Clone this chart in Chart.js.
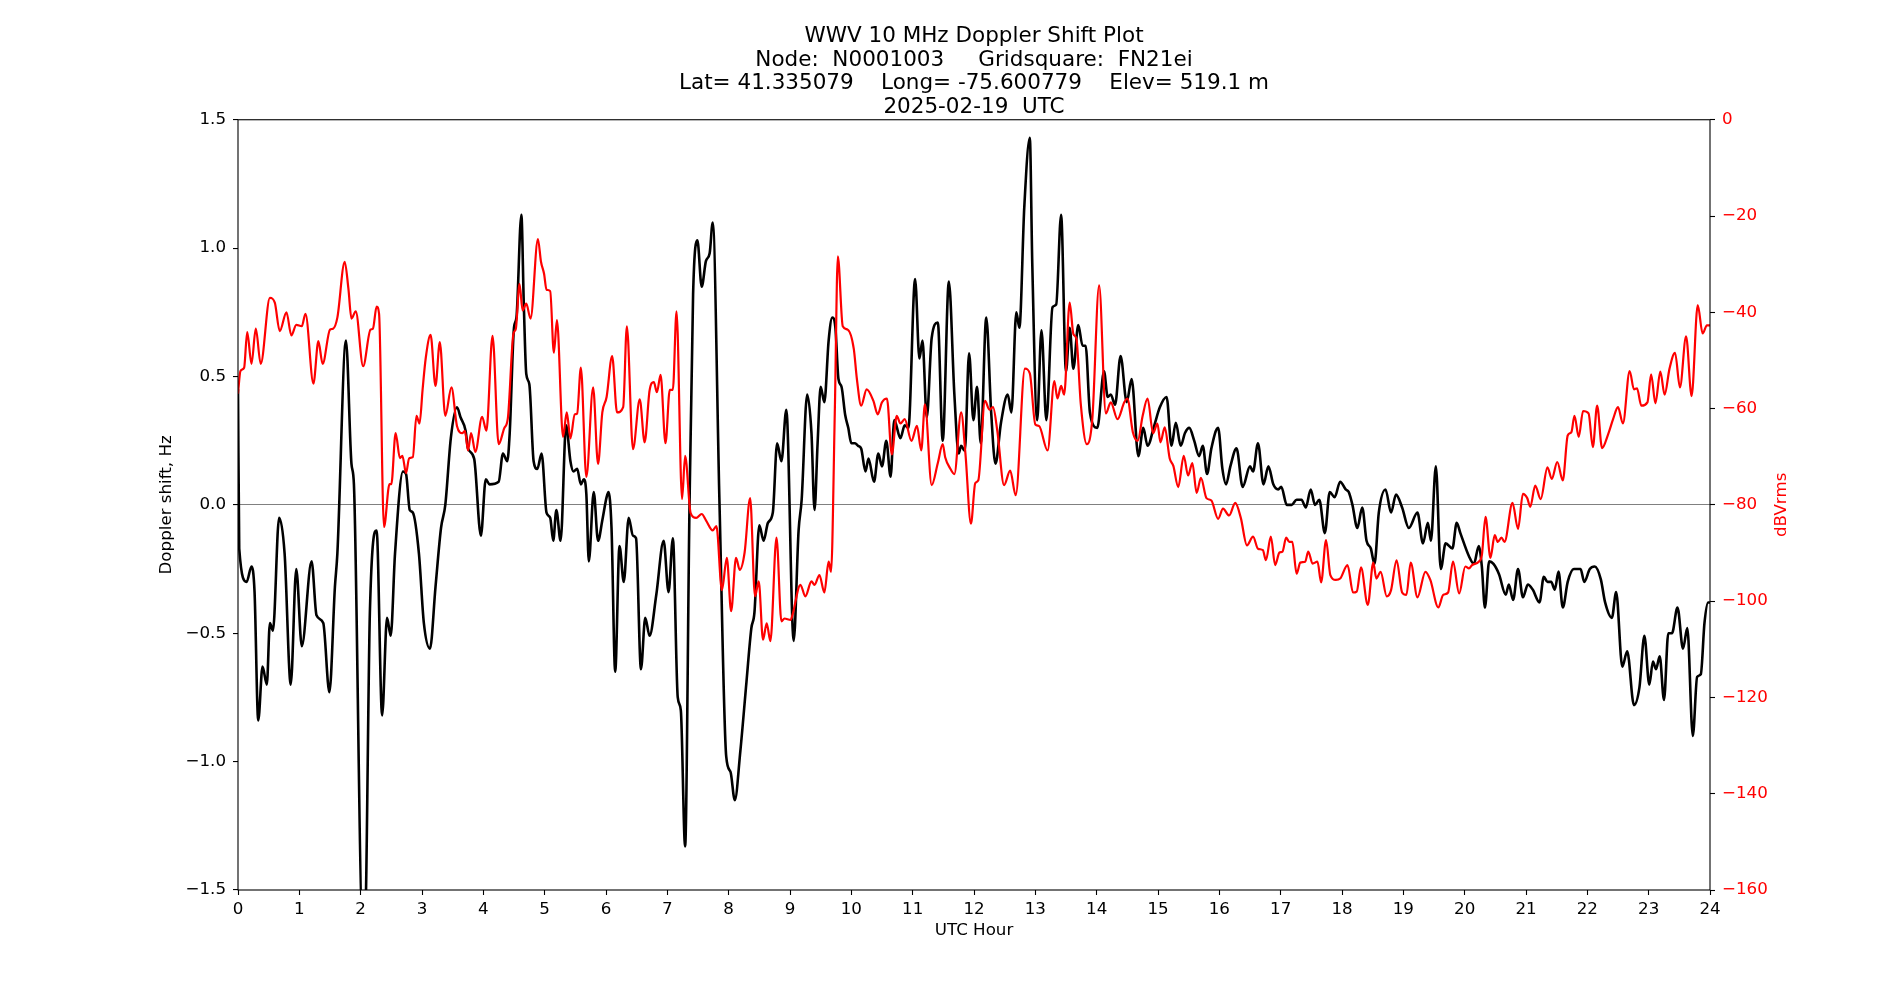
<!DOCTYPE html>
<html>
<head>
<meta charset="utf-8">
<script src="https://cdn.jsdelivr.net/npm/chart.js@4.4.1/dist/chart.umd.min.js"></script>
<style>
  html, body { margin: 0; padding: 0; background: #fff; }
  canvas { display: block; }
</style>
</head>
<body>
<canvas id="chartCanvas" width="1900" height="1000"></canvas>
<script>
// Doppler shift (black, left axis)
const dopplerHours = [0.00,0.02,0.14,0.22,0.27,0.33,0.40,0.47,0.52,0.57,0.67,0.76,0.86,0.95,1.04,1.20,1.28,1.39,1.49,1.58,1.62,1.76,1.85,1.89,2.03,2.07,2.15,2.26,2.35,2.43,2.49,2.56,2.69,2.74,2.80,2.85,2.95,3.03,3.13,3.22,3.31,3.38,3.47,3.57,3.63,3.71,3.75,3.85,3.96,4.04,4.10,4.25,4.32,4.39,4.43,4.50,4.54,4.62,4.66,4.70,4.75,4.82,4.88,4.95,5.03,5.09,5.14,5.19,5.26,5.35,5.42,5.47,5.53,5.59,5.64,5.68,5.72,5.80,5.87,5.94,6.01,6.04,6.09,6.15,6.22,6.29,6.37,6.44,6.49,6.57,6.64,6.71,6.82,6.94,7.02,7.09,7.17,7.22,7.29,7.36,7.42,7.49,7.56,7.63,7.69,7.74,7.85,7.96,8.03,8.10,8.19,8.29,8.37,8.42,8.50,8.57,8.64,8.72,8.79,8.86,8.94,9.06,9.14,9.19,9.28,9.35,9.40,9.45,9.50,9.56,9.63,9.69,9.74,9.79,9.84,9.90,9.95,10.00,10.06,10.11,10.16,10.23,10.28,10.37,10.44,10.50,10.57,10.64,10.70,10.80,10.87,10.93,11.04,11.11,11.16,11.23,11.31,11.41,11.49,11.59,11.68,11.75,11.79,11.85,11.92,11.99,12.05,12.11,12.20,12.28,12.35,12.44,12.55,12.61,12.69,12.74,12.82,12.91,12.95,13.03,13.10,13.18,13.28,13.34,13.42,13.50,13.56,13.62,13.70,13.77,13.82,13.89,14.01,14.12,14.18,14.23,14.30,14.39,14.49,14.57,14.68,14.76,14.83,14.94,15.03,15.14,15.22,15.29,15.37,15.44,15.51,15.59,15.67,15.73,15.80,15.87,15.98,16.05,16.11,16.18,16.28,16.38,16.50,16.55,16.63,16.72,16.80,16.88,16.96,17.01,17.10,17.18,17.26,17.34,17.41,17.49,17.56,17.63,17.72,17.80,17.88,17.97,18.06,18.11,18.17,18.25,18.33,18.40,18.47,18.53,18.60,18.71,18.80,18.88,18.98,19.09,19.23,19.32,19.40,19.45,19.53,19.61,19.69,19.80,19.87,19.93,20.07,20.15,20.23,20.28,20.33,20.40,20.47,20.56,20.67,20.72,20.79,20.87,20.95,21.03,21.11,21.22,21.29,21.35,21.41,21.47,21.53,21.60,21.68,21.78,21.89,21.95,22.04,22.12,22.22,22.29,22.40,22.47,22.57,22.65,22.76,22.85,22.93,23.01,23.07,23.12,23.18,23.25,23.32,23.38,23.47,23.56,23.63,23.72,23.79,23.85,23.91,23.97,24.00];
const dopplerShift = [0.45,-0.17,-0.30,-0.24,-0.34,-0.84,-0.63,-0.70,-0.46,-0.49,-0.05,-0.19,-0.70,-0.25,-0.55,-0.22,-0.43,-0.46,-0.73,-0.32,-0.19,0.64,0.16,0.08,-1.62,-1.62,-0.42,-0.10,-0.82,-0.44,-0.51,-0.19,0.13,0.12,-0.02,-0.03,-0.19,-0.46,-0.56,-0.32,-0.09,0.00,0.26,0.38,0.34,0.29,0.22,0.18,-0.12,0.10,0.08,0.09,0.20,0.17,0.28,0.69,0.73,1.13,0.78,0.51,0.47,0.17,0.14,0.20,-0.03,-0.05,-0.14,-0.02,-0.14,0.31,0.17,0.13,0.14,0.08,0.10,0.04,-0.22,0.05,-0.14,-0.06,0.03,0.05,-0.09,-0.65,-0.16,-0.30,-0.05,-0.12,-0.13,-0.64,-0.44,-0.51,-0.35,-0.14,-0.34,-0.13,-0.75,-0.80,-1.33,-0.03,0.82,1.03,0.85,0.95,0.98,1.10,0.01,-0.98,-1.04,-1.15,-0.96,-0.69,-0.48,-0.42,-0.08,-0.14,-0.07,-0.03,0.24,0.17,0.37,-0.53,-0.10,0.02,0.43,0.28,-0.02,0.24,0.46,0.40,0.64,0.73,0.69,0.49,0.46,0.35,0.30,0.24,0.24,0.23,0.22,0.13,0.18,0.09,0.20,0.15,0.25,0.11,0.33,0.26,0.31,0.30,0.88,0.57,0.64,0.34,0.65,0.71,0.25,0.87,0.43,0.20,0.23,0.21,0.59,0.33,0.46,0.24,0.73,0.36,0.16,0.32,0.43,0.36,0.75,0.69,1.16,1.43,0.94,0.33,0.68,0.33,0.77,0.78,1.13,0.52,0.69,0.53,0.70,0.62,0.62,0.36,0.30,0.52,0.42,0.43,0.39,0.58,0.40,0.49,0.19,0.30,0.23,0.31,0.38,0.42,0.23,0.32,0.23,0.28,0.30,0.25,0.19,0.23,0.12,0.22,0.30,0.14,0.08,0.15,0.22,0.07,0.15,0.13,0.24,0.08,0.15,0.08,0.06,0.07,0.00,0.00,0.02,0.02,-0.01,0.06,0.00,0.02,-0.11,0.05,0.03,0.09,0.06,0.05,0.00,-0.09,-0.01,-0.14,-0.17,-0.23,-0.03,0.06,-0.03,0.04,-0.01,-0.09,-0.03,-0.15,-0.07,-0.14,0.15,-0.25,-0.15,-0.17,-0.07,-0.11,-0.20,-0.23,-0.16,-0.24,-0.40,-0.22,-0.23,-0.27,-0.35,-0.31,-0.37,-0.25,-0.36,-0.31,-0.33,-0.38,-0.28,-0.30,-0.30,-0.33,-0.26,-0.40,-0.30,-0.25,-0.25,-0.30,-0.25,-0.24,-0.29,-0.38,-0.44,-0.34,-0.63,-0.57,-0.78,-0.71,-0.51,-0.70,-0.61,-0.64,-0.59,-0.76,-0.50,-0.50,-0.40,-0.56,-0.48,-0.90,-0.67,-0.66,-0.46,-0.38,-0.38];

// Signal level (red, right axis)
const powerHours = [0.00,0.04,0.10,0.15,0.22,0.29,0.37,0.52,0.60,0.68,0.79,0.87,0.95,1.04,1.10,1.23,1.31,1.38,1.50,1.55,1.62,1.74,1.80,1.85,1.92,2.04,2.16,2.20,2.26,2.30,2.38,2.47,2.50,2.57,2.64,2.68,2.74,2.79,2.85,2.91,2.96,3.01,3.06,3.14,3.22,3.29,3.38,3.48,3.57,3.66,3.70,3.75,3.80,3.87,3.98,4.05,4.15,4.25,4.34,4.40,4.49,4.53,4.59,4.64,4.70,4.77,4.89,4.94,4.99,5.03,5.09,5.15,5.20,5.30,5.36,5.42,5.49,5.53,5.59,5.68,5.79,5.87,5.94,6.01,6.10,6.18,6.28,6.34,6.44,6.55,6.63,6.71,6.78,6.83,6.89,6.97,7.04,7.09,7.15,7.24,7.29,7.38,7.47,7.56,7.63,7.74,7.80,7.89,7.97,8.04,8.12,8.18,8.26,8.35,8.43,8.49,8.56,8.62,8.68,8.78,8.86,8.91,9.01,9.04,9.17,9.25,9.35,9.40,9.48,9.56,9.63,9.67,9.73,9.78,9.86,9.94,10.04,10.09,10.16,10.25,10.36,10.43,10.50,10.58,10.66,10.74,10.80,10.87,10.98,11.07,11.14,11.20,11.31,11.41,11.49,11.53,11.61,11.68,11.79,11.86,11.95,12.02,12.07,12.18,12.25,12.31,12.38,12.49,12.59,12.68,12.83,12.91,13.00,13.06,13.20,13.31,13.36,13.42,13.47,13.56,13.62,13.67,13.74,13.84,13.93,14.04,14.15,14.23,14.34,14.45,14.50,14.59,14.67,14.75,14.83,14.92,14.99,15.04,15.11,15.19,15.25,15.33,15.42,15.49,15.56,15.63,15.70,15.79,15.87,15.98,16.06,16.16,16.26,16.35,16.45,16.55,16.63,16.71,16.76,16.84,16.91,16.98,17.03,17.09,17.14,17.19,17.26,17.32,17.40,17.45,17.52,17.60,17.66,17.74,17.81,17.90,17.97,18.09,18.18,18.24,18.31,18.42,18.51,18.56,18.63,18.73,18.80,18.89,18.98,19.05,19.12,19.23,19.36,19.44,19.57,19.65,19.73,19.81,19.91,20.01,20.07,20.12,20.23,20.28,20.34,20.42,20.49,20.54,20.60,20.65,20.78,20.87,20.95,21.02,21.07,21.15,21.24,21.35,21.42,21.51,21.60,21.68,21.74,21.79,21.86,21.93,22.02,22.09,22.16,22.24,22.34,22.42,22.50,22.58,22.69,22.76,22.81,22.88,22.98,23.04,23.11,23.19,23.26,23.34,23.43,23.51,23.61,23.70,23.80,23.88,23.95,24.00];
const powerDb = [-56.9,-52.2,-51.5,-44.1,-50.7,-43.4,-50.7,-37.0,-38.0,-43.9,-40.0,-44.8,-42.6,-42.9,-40.3,-54.8,-46.0,-50.7,-43.6,-43.4,-41.1,-29.5,-35.1,-41.3,-39.8,-51.2,-43.6,-43.4,-38.8,-40.3,-84.6,-75.7,-75.7,-65.1,-70.3,-69.8,-73.4,-70.3,-70.1,-61.5,-63.1,-56.0,-49.6,-44.7,-55.3,-46.2,-61.5,-55.6,-63.6,-65.1,-64.6,-68.7,-65.1,-69.0,-61.7,-64.6,-44.9,-67.4,-64.1,-62.0,-44.5,-43.4,-34.1,-39.6,-38.2,-41.3,-24.8,-29.5,-32.0,-35.3,-35.6,-48.4,-41.6,-65.9,-60.8,-66.2,-61.2,-61.0,-51.5,-74.2,-55.6,-71.5,-60.8,-57.6,-49.1,-60.8,-59.7,-42.9,-68.4,-58.1,-67.0,-56.3,-54.5,-56.6,-53.0,-67.2,-56.1,-56.1,-39.8,-78.8,-69.8,-81.7,-82.7,-81.9,-83.2,-85.3,-84.4,-97.7,-91.0,-102.1,-91.0,-93.5,-89.9,-78.6,-99.0,-95.9,-108.0,-104.6,-108.3,-86.8,-104.2,-103.6,-103.9,-102.9,-96.6,-99.0,-95.9,-96.6,-94.6,-98.2,-91.8,-93.9,-61.0,-28.4,-42.9,-43.6,-47.6,-53.8,-59.4,-56.0,-58.4,-61.2,-58.7,-57.9,-69.5,-61.5,-63.1,-62.2,-66.7,-63.6,-68.7,-59.1,-75.9,-71.3,-67.4,-70.1,-72.4,-73.6,-60.8,-69.3,-83.9,-75.5,-74.9,-58.4,-60.2,-59.7,-64.6,-75.9,-72.9,-78.0,-51.7,-52.7,-63.3,-63.6,-68.7,-54.3,-57.9,-55.3,-57.1,-38.0,-44.5,-45.5,-58.9,-67.4,-62.0,-34.4,-61.0,-58.7,-62.2,-58.7,-57.9,-64.9,-66.7,-61.5,-57.9,-65.1,-63.1,-67.0,-63.9,-70.3,-71.9,-76.3,-69.8,-73.9,-71.3,-77.5,-74.4,-78.6,-79.1,-82.9,-80.8,-82.2,-79.6,-82.7,-88.4,-86.6,-89.1,-89.4,-91.5,-86.6,-92.5,-89.9,-89.7,-86.8,-87.7,-87.7,-94.3,-92.0,-91.8,-89.7,-92.2,-91.8,-96.1,-87.3,-94.6,-95.6,-95.3,-92.5,-98.2,-98.0,-93.0,-100.8,-92.0,-95.3,-93.9,-99.0,-97.7,-91.5,-98.2,-98.7,-92.0,-99.2,-93.9,-95.6,-101.3,-98.7,-98.2,-91.8,-98.4,-92.8,-93.2,-92.5,-91.8,-90.5,-82.5,-91.0,-86.3,-87.7,-86.8,-87.7,-79.6,-85.0,-77.7,-78.6,-80.4,-76.0,-78.8,-72.2,-74.6,-71.1,-74.9,-65.6,-64.9,-61.5,-65.9,-60.5,-61.0,-68.0,-59.4,-68.2,-65.3,-62.2,-59.7,-63.1,-52.2,-56.0,-55.8,-59.4,-58.7,-52.9,-58.9,-52.3,-57.1,-51.7,-48.4,-55.6,-45.0,-57.4,-38.5,-44.4,-42.7,-42.7];

const hourTicks = [0,1,2,3,4,5,6,7,8,9,10,11,12,13,14,15,16,17,18,19,20,21,22,23,24];
const titleLines = [
  "WWV 10 MHz Doppler Shift Plot",
  "Node:  N0001003     Gridsquare:  FN21ei",
  "Lat= 41.335079    Long= -75.600779    Elev= 519.1 m",
  "2025-02-19  UTC"
];

const FONT = "'DejaVu Sans', sans-serif";
const minus = (s) => String(s).replace("-", "\u2212");

function toPoints(xs, ys) {
  return xs.map((x, i) => ({ x: x, y: ys[i] }));
}

// frame + axis labels
const framePlugin = {
  id: "frame",
  afterDatasetsDraw(chart) {
    const a = chart.chartArea;
    const ctx = chart.ctx;
    ctx.save();
    ctx.strokeStyle = "#000";
    ctx.lineWidth = 1.1;
    ctx.strokeRect(a.left, a.top, a.right - a.left, a.bottom - a.top);

    ctx.font = "16.7px " + FONT;
    ctx.textAlign = "center";
    ctx.textBaseline = "middle";
    ctx.fillStyle = "#000";
    ctx.fillText("UTC Hour", (a.left + a.right) / 2, 931);

    const midY = (a.top + a.bottom) / 2;
    ctx.save();
    ctx.translate(167, midY);
    ctx.rotate(-Math.PI / 2);
    ctx.fillText("Doppler shift, Hz", 0, 0);
    ctx.restore();

    ctx.save();
    ctx.translate(1782, midY);
    ctx.rotate(-Math.PI / 2);
    ctx.fillStyle = "#ff0000";
    ctx.fillText("dBVrms", 0, 0);
    ctx.restore();
    ctx.restore();
  }
};

const ctx = document.getElementById("chartCanvas").getContext("2d");
const chart = new Chart(ctx, {
  type: "line",
  data: {
    datasets: [
      {
        label: "dBVrms",
        data: toPoints(powerHours, powerDb),
        yAxisID: "yPower",
        borderColor: "#ff0000",
        borderWidth: 2.2,
        pointRadius: 0,
        cubicInterpolationMode: "monotone",
        order: 0
      },
      {
        label: "Doppler shift",
        data: toPoints(dopplerHours, dopplerShift),
        yAxisID: "yDoppler",
        borderColor: "#000000",
        borderWidth: 2.6,
        pointRadius: 0,
        cubicInterpolationMode: "monotone",
        order: 1
      }
    ]
  },
  options: {
    responsive: false,
    devicePixelRatio: 1,
    animation: false,
    layout: { padding: 0 },
    plugins: {
      legend: { display: false },
      tooltip: { enabled: false },
      title: {
        display: true,
        fullSize: false,
        text: titleLines,
        color: "#000",
        font: { family: FONT, size: 21.5, weight: "normal", lineHeight: 1.09 },
        padding: { top: 25, bottom: 1 }
      }
    },
    scales: {
      x: {
        type: "linear",
        min: 0,
        max: 24,
        afterBuildTicks: (s) => { s.ticks = hourTicks.map(v => ({ value: v })); },
        afterFit: (s) => { s.height = 110; },
        border: { display: false },
        grid: { drawOnChartArea: false, drawTicks: true, tickLength: 5, tickColor: "#000", tickWidth: 1.1 },
        ticks: { color: "#000", padding: 5, autoSkip: false, maxRotation: 0, font: { family: FONT, size: 16.7 } }
      },
      yDoppler: {
        type: "linear",
        position: "left",
        min: -1.5,
        max: 1.5,
        afterFit: (s) => { s.width = 238; },
        border: { display: false },
        grid: {
          drawOnChartArea: true,
          color: (c) => (c.tick && c.tick.value === 0 ? "#808080" : "rgba(0,0,0,0)"),
          lineWidth: 1.1,
          drawTicks: true,
          tickLength: 5,
          tickColor: "#000",
          tickWidth: 1.1
        },
        ticks: {
          stepSize: 0.5,
          color: "#000",
          padding: 7,
          font: { family: FONT, size: 16.7 },
          callback: (v) => minus(v.toFixed(1))
        }
      },
      yPower: {
        type: "linear",
        position: "right",
        min: -160,
        max: 0,
        afterFit: (s) => { s.width = 190; },
        border: { display: false },
        grid: { drawOnChartArea: false, drawTicks: true, tickLength: 5, tickColor: "#000", tickWidth: 1.1 },
        ticks: {
          stepSize: 20,
          color: "#ff0000",
          padding: 7,
          font: { family: FONT, size: 16.7 },
          callback: (v) => minus(v)
        }
      }
    }
  },
  plugins: [framePlugin]
});
</script>
</body>
</html>
